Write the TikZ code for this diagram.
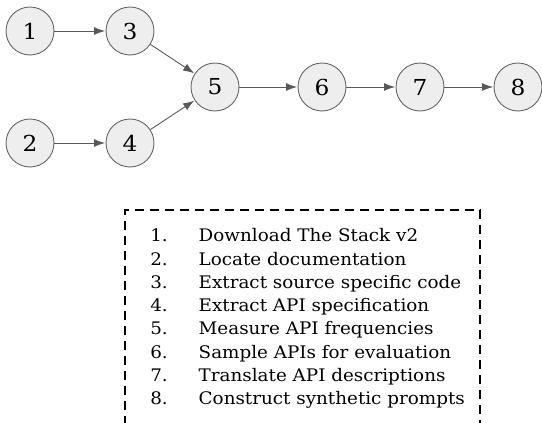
\documentclass[tikz,border=0pt]{standalone}
\usepackage{fontspec}
\setmainfont[FakeStretch=1.06]{DejaVu Serif}
\usetikzlibrary{arrows.meta}
\definecolor{nodefill}{HTML}{EEEEEE}
\definecolor{nodeline}{HTML}{666666}
\definecolor{arrowcol}{HTML}{595959}
\tikzset{
  stepnode/.style={circle, draw=nodeline, fill=nodefill, line width=0.9pt, minimum size=48pt, inner sep=0pt, font=\fontsize{22}{26}\selectfont},
  flow/.style={draw=arrowcol, line width=0.9pt, -{Latex[length=11pt,width=8pt]}, shorten >=0.5pt},
  listtext/.style={inner sep=0pt, font=\fontsize{17.3}{23}\selectfont}
}
\begin{document}
\begin{tikzpicture}[x=1pt,y=-1pt]
\useasboundingbox (0,0) rectangle (542,423);
\node[stepnode] (n1) at (30,31) {1};
\node[stepnode] (n3) at (130,31) {3};
\node[stepnode] (n2) at (30,143) {2};
\node[stepnode] (n4) at (130,143) {4};
\node[stepnode] (n5) at (215,87) {5};
\node[stepnode] (n6) at (322,87) {6};
\node[stepnode] (n7) at (420,87) {7};
\node[stepnode] (n8) at (518,87) {8};
\draw[flow] (n1) -- (n3);
\draw[flow] (n2) -- (n4);
\draw[flow] (n3) -- (n5);
\draw[flow] (n4) -- (n5);
\draw[flow] (n5) -- (n6);
\draw[flow] (n6) -- (n7);
\draw[flow] (n7) -- (n8);
\draw[line width=2pt, dash pattern=on 9pt off 6pt] (125,440) -- (125,210) -- (480,210) -- (480,440);
\foreach \i/\t in {1/Download The Stack v2, 2/Locate documentation, 3/Extract source specific code, 4/Extract API specification, 5/Measure API frequencies, 6/Sample APIs for evaluation, 7/Translate API descriptions, 8/Construct synthetic prompts}{
  \node[listtext, anchor=base east] (num\i) at (168,{241.7+23.3*(\i-1)}) {\i.};
  \node[listtext, anchor=base west] (item\i) at (198.5,{241.7+23.3*(\i-1)}) {\t};
}
\end{tikzpicture}
\end{document}
